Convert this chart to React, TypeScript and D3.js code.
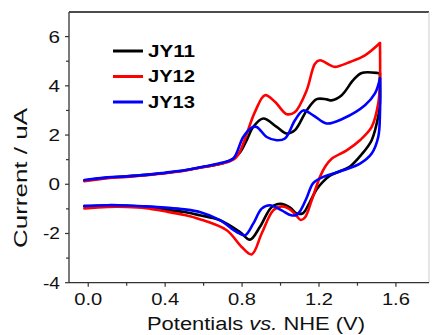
import React from "react";
import * as d3 from "d3";

type Pt = [number, number];

// Potential (V vs NHE), current (uA) — anodic (forward) and cathodic (reverse) branches
const jy11Anodic: Pt[] = [
  [-0.02, 0.15], [0.1, 0.27], [0.2, 0.32], [0.3, 0.38], [0.4, 0.46], [0.5, 0.56], [0.6, 0.7],
  [0.7, 0.85], [0.754, 1.04], [0.79, 1.3], [0.824, 1.79], [0.858, 2.33], [0.91, 2.67],
  [0.98, 2.33], [1.032, 2.06], [1.075, 2.2], [1.136, 3.0], [1.188, 3.46], [1.24, 3.45],
  [1.266, 3.41], [1.318, 3.62], [1.378, 4.23], [1.422, 4.52], [1.505, 4.52], [1.517, 4.5],
];
const jy11Cathodic: Pt[] = [
  [1.517, 4.5], [1.517, 3.3], [1.51, 2.84], [1.474, 1.79], [1.42, 1.2], [1.361, 0.72],
  [1.3, 0.5], [1.257, 0.35], [1.22, 0.1], [1.188, -0.2], [1.144, -0.85], [1.118, -1.17],
  [1.084, -1.19], [1.05, -0.95], [1.0, -0.79], [0.954, -0.92], [0.893, -1.73], [0.841, -2.25],
  [0.789, -1.94], [0.685, -1.46], [0.58, -1.26], [0.5, -1.13], [0.4, -1.03], [0.3, -0.93],
  [0.2, -0.88], [0.1, -0.87], [-0.02, -0.9],
];

const jy12Anodic: Pt[] = [
  [-0.02, 0.12], [0.1, 0.25], [0.2, 0.3], [0.3, 0.37], [0.4, 0.45], [0.5, 0.55], [0.6, 0.7],
  [0.7, 0.85], [0.754, 1.0], [0.78, 1.2], [0.806, 1.65], [0.867, 2.94], [0.919, 3.62],
  [0.971, 3.35], [1.032, 2.85], [1.075, 2.94], [1.136, 3.82], [1.179, 4.9], [1.205, 5.04],
  [1.257, 4.84], [1.283, 4.77], [1.361, 4.97], [1.439, 5.24], [1.517, 5.74],
];
const jy12Cathodic: Pt[] = [
  [1.517, 5.74], [1.517, 4.23], [1.508, 3.28], [1.474, 2.33], [1.413, 1.79], [1.344, 1.38],
  [1.266, 1.04], [1.235, 0.75], [1.205, 0.3], [1.162, -0.65], [1.127, -1.35], [1.105, -1.45],
  [1.08, -1.25], [1.045, -1.0], [1.006, -0.9], [0.962, -1.06], [0.902, -2.0], [0.85, -2.85],
  [0.798, -2.55], [0.72, -1.87], [0.58, -1.42], [0.5, -1.25], [0.4, -1.1], [0.3, -0.97],
  [0.2, -0.92], [0.1, -0.92], [-0.02, -0.98],
];

const jy13Anodic: Pt[] = [
  [-0.02, 0.17], [0.1, 0.28], [0.2, 0.32], [0.3, 0.38], [0.4, 0.47], [0.5, 0.57], [0.6, 0.72],
  [0.7, 0.88], [0.754, 1.04], [0.806, 1.92], [0.85, 2.3], [0.876, 2.33], [0.928, 1.92],
  [0.98, 1.79], [1.023, 1.86], [1.075, 2.6], [1.118, 3.0], [1.17, 2.8], [1.24, 2.47],
  [1.326, 2.67], [1.439, 3.21], [1.491, 3.69], [1.517, 4.3],
];
const jy13Cathodic: Pt[] = [
  [1.517, 4.3], [1.517, 2.87], [1.508, 1.92], [1.474, 1.25], [1.413, 0.84], [1.326, 0.57],
  [1.222, 0.3], [1.17, 0.05], [1.136, -0.55], [1.105, -1.05], [1.084, -1.24], [1.055, -1.26],
  [1.006, -1.06], [0.945, -0.85], [0.902, -0.99], [0.858, -1.6], [0.815, -2.07],
  [0.772, -1.94], [0.685, -1.46], [0.58, -1.13], [0.5, -1.02], [0.4, -0.95], [0.3, -0.9],
  [0.2, -0.86], [0.1, -0.85], [-0.02, -0.88],
];

const seriesNames = ["JY11", "JY12", "JY13"];
const seriesColors = ["#000000", "#ff0000", "#0000ff"];
const seriesData: Pt[][][] = [
  [jy11Anodic, jy11Cathodic],
  [jy12Anodic, jy12Cathodic],
  [jy13Anodic, jy13Cathodic],
];

const xMajorTicks = [0.0, 0.4, 0.8, 1.2, 1.6];
const xMinorTicks = [0.2, 0.6, 1.0, 1.4];
const yMajorTicks = [-4, -2, 0, 2, 4, 6];
const yMinorTicks = [-3, -1, 1, 3, 5];

const xTitleParts = ["Potentials ", "vs.", " NHE (V)"];
const yTitle = "Current / uA";

const W = 432;
const H = 335;
const left = 69;
const right = 429;
const top = 12;
const bottom = 282.7;

export default function App() {
  const x = d3.scaleLinear().domain([-0.1, 1.772]).range([left, right]);
  const y = d3.scaleLinear().domain([-4, 7]).range([bottom, top]);
  const line = d3
    .line<Pt>()
    .x((d) => x(d[0]))
    .y((d) => y(d[1]))
    .curve(d3.curveCatmullRom.alpha(0.5));

  const font = "Arial, 'Liberation Sans', Helvetica, sans-serif";
  const axisColor = "#333";

  return (
    <svg
      width={W}
      height={H}
      style={{ position: "absolute", left: 0, top: 0, background: "#fff" }}
      fontFamily={font}
    >
      <rect x={0} y={0} width={W} height={H} fill="#fff" />
      {/* curves */}
      {seriesData.map((branches, i) => (
        <g key={seriesNames[i]}>
          {branches.map((b, j) => (
            <path
              key={j}
              d={line(b) || ""}
              fill="none"
              stroke={seriesColors[i]}
              strokeWidth={2.6}
              strokeLinejoin="round"
              strokeLinecap="round"
            />
          ))}
        </g>
      ))}
      {/* frame */}
      <line x1={left} x2={right} y1={top} y2={top} stroke="#111" strokeWidth={1.3} />
      <line x1={right} x2={right} y1={top} y2={bottom} stroke="#ccc" strokeWidth={1} />
      <line x1={left} x2={left} y1={top} y2={bottom} stroke={axisColor} strokeWidth={1.3} />
      <line x1={left} x2={right} y1={bottom} y2={bottom} stroke={axisColor} strokeWidth={1.3} />
      {/* y ticks */}
      {yMajorTicks.map((t) => (
        <g key={"ym" + t}>
          <line x1={left - 4} x2={left} y1={y(t)} y2={y(t)} stroke={axisColor} strokeWidth={1.2} />
          <text
            x={60}
            y={y(t) + 6}
            textAnchor="end"
            fontSize={16.5}
            fill="#111"
            textLength={t < 0 ? 17 : 11.5}
            lengthAdjust="spacingAndGlyphs"
          >
            {t}
          </text>
        </g>
      ))}
      {yMinorTicks.map((t) => (
        <line key={"yn" + t} x1={left - 3} x2={left} y1={y(t)} y2={y(t)} stroke={axisColor} strokeWidth={1.2} />
      ))}
      {/* x ticks */}
      {xMajorTicks.map((t) => (
        <g key={"xm" + t}>
          <line x1={x(t)} x2={x(t)} y1={bottom} y2={bottom + 4} stroke={axisColor} strokeWidth={1.2} />
          <text
            x={x(t)}
            y={305}
            textAnchor="middle"
            fontSize={16.5}
            fill="#111"
            textLength={28}
            lengthAdjust="spacingAndGlyphs"
          >
            {t.toFixed(1)}
          </text>
        </g>
      ))}
      {xMinorTicks.map((t) => (
        <line key={"xn" + t} x1={x(t)} x2={x(t)} y1={bottom} y2={bottom + 3} stroke={axisColor} strokeWidth={1.2} />
      ))}
      {/* axis titles */}
      <text
        x={256}
        y={330}
        textAnchor="middle"
        fontSize={18}
        fill="#111"
        textLength={218}
        lengthAdjust="spacingAndGlyphs"
      >
        <tspan>{xTitleParts[0]}</tspan>
        <tspan fontStyle="italic">{xTitleParts[1]}</tspan>
        <tspan>{xTitleParts[2]}</tspan>
      </text>
      <text
        transform="translate(27,178) rotate(-90)"
        textAnchor="middle"
        fontSize={18}
        fill="#111"
        textLength={140}
        lengthAdjust="spacingAndGlyphs"
      >
        {yTitle}
      </text>
      {/* legend */}
      {seriesNames.map((n, i) => (
        <g key={"lg" + n}>
          <line
            x1={113}
            x2={143}
            y1={51 + i * 25.5}
            y2={51 + i * 25.5}
            stroke={seriesColors[i]}
            strokeWidth={3}
          />
          <text
            x={148}
            y={56.5 + i * 25.5}
            fontSize={16}
            fontWeight="bold"
            fill="#000"
            textLength={47}
            lengthAdjust="spacingAndGlyphs"
          >
            {n}
          </text>
        </g>
      ))}
    </svg>
  );
}
